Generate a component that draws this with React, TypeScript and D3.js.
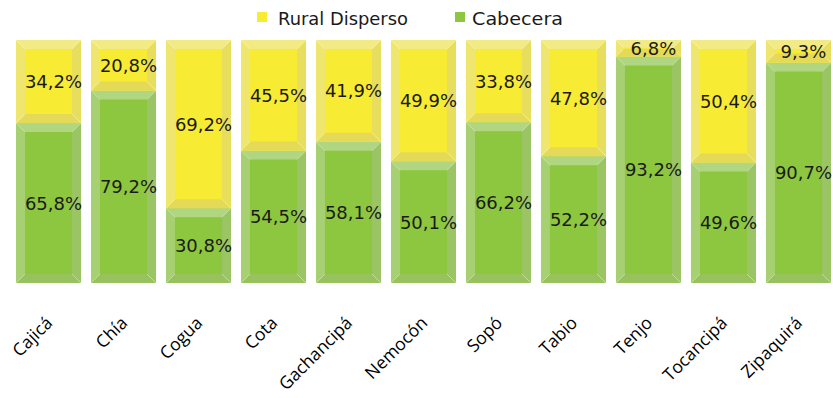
import React from "react";
import * as d3 from "d3";

const categories = ["Cajicá", "Chía", "Cogua", "Cota", "Gachancipá", "Nemocón", "Sopó", "Tabio", "Tenjo", "Tocancipá", "Zipaquirá"];
const cabecera = [65.8, 79.2, 30.8, 54.5, 58.1, 50.1, 66.2, 52.2, 93.2, 49.6, 90.7];
const ruralDisperso = [34.2, 20.8, 69.2, 45.5, 41.9, 49.9, 33.8, 47.8, 6.8, 50.4, 9.3];
const seriesNames = ["Rural Disperso", "Cabecera"];

const W = 833;
const H = 398;

const COLORS = {
  yellow: { main: "#F7EB33", top: "#F2EA85", left: "#EFE670", right: "#E8DE5E", bottom: "#E4DA58" },
  green: { main: "#8DC63F", top: "#B0D681", left: "#A6D071", right: "#9BC564", bottom: "#97C25E" },
};

const fmt = (v: number) => v.toFixed(1).replace(".", ",") + "%";

function Bevel({ x, y, w, h, c }: { x: number; y: number; w: number; h: number; c: any }) {
  const b = Math.min(9, h / 2 - 0.5, w / 2);
  const x0 = x, x1 = x + w, y0 = y, y1 = y + h;
  const poly = (pts: [number, number][]) => {
    const p = d3.path();
    p.moveTo(pts[0][0], pts[0][1]);
    pts.slice(1).forEach((q) => p.lineTo(q[0], q[1]));
    p.closePath();
    return p.toString();
  };
  return (
    <g>
      <rect x={x0} y={y0} width={w} height={h} fill={c.main} />
      <path d={poly([[x0, y0], [x1, y0], [x1 - b, y0 + b], [x0 + b, y0 + b]])} fill={c.top} />
      <path d={poly([[x0, y0], [x0 + b, y0 + b], [x0 + b, y1 - b], [x0, y1]])} fill={c.left} />
      <path d={poly([[x1, y0], [x1, y1], [x1 - b, y1 - b], [x1 - b, y0 + b]])} fill={c.right} />
      <path d={poly([[x0, y1], [x0 + b, y1 - b], [x1 - b, y1 - b], [x1, y1]])} fill={c.bottom} />
      <line x1={x0} y1={y0} x2={x0 + b} y2={y0 + b} stroke="#ffffff" strokeOpacity={0.5} strokeWidth={0.8} />
      <line x1={x1} y1={y0} x2={x1 - b} y2={y0 + b} stroke="#ffffff" strokeOpacity={0.5} strokeWidth={0.8} />
      <line x1={x0} y1={y1} x2={x0 + b} y2={y1 - b} stroke="#ffffff" strokeOpacity={0.5} strokeWidth={0.8} />
      <line x1={x1} y1={y1} x2={x1 - b} y2={y1 - b} stroke="#ffffff" strokeOpacity={0.5} strokeWidth={0.8} />
    </g>
  );
}

export default function App() {
  const x = d3.scaleBand<string>().domain(categories).range([11, 836]).paddingInner(0.133).paddingOuter(0.0667);
  const y = d3.scaleLinear().domain([0, 100]).range([283, 40]);
  const bw = x.bandwidth();
  const labelFont = "'DejaVu Sans', sans-serif";

  return (
    <div style={{ position: "absolute", left: 0, top: 0 }}>
      <svg width={W} height={H} style={{ display: "block" }}>
        <rect width={W} height={H} fill="#ffffff" />
        {/* Legend */}
        <g>
          <rect x={257} y={12} width={10} height={10} fill={COLORS.yellow.main} />
          <text x={278} y={25} fontFamily={labelFont} fontSize={18} fill="#1a1a1a" textLength={130} lengthAdjust="spacingAndGlyphs">
            {seriesNames[0]}
          </text>
          <rect x={455} y={12} width={10} height={10} fill={COLORS.green.main} />
          <text x={472} y={25} fontFamily={labelFont} fontSize={18} fill="#1a1a1a" textLength={91} lengthAdjust="spacingAndGlyphs">
            {seriesNames[1]}
          </text>
        </g>
        {categories.map((cat, i) => {
          const bx = x(cat)!;
          const gTop = y(cabecera[i]);
          const gBot = y(0);
          const yTop = y(100);
          const cx = bx + bw / 2;
          return (
            <g key={cat}>
              <Bevel x={bx} y={gTop} w={bw} h={gBot - gTop} c={COLORS.green} />
              <Bevel x={bx} y={yTop} w={bw} h={gTop - yTop} c={COLORS.yellow} />
              <text x={cx + 5} y={(gTop + gBot) / 2} dy="0.36em" textAnchor="middle" fontFamily={labelFont} fontSize={18} fill="#1a1a1a">
                {fmt(cabecera[i])}
              </text>
              <text x={cx + 5} y={(yTop + gTop) / 2} dy="0.36em" textAnchor="middle" fontFamily={labelFont} fontSize={18} fill="#1a1a1a">
                {fmt(ruralDisperso[i])}
              </text>
              <text
                transform={`translate(${cx + 5},${324}) rotate(-45)`}
                textAnchor="end"
                fontFamily="'Open Sans', sans-serif"
                fontSize={17.5}
                fill="#000000"
              >
                {cat}
              </text>
            </g>
          );
        })}
      </svg>
    </div>
  );
}
